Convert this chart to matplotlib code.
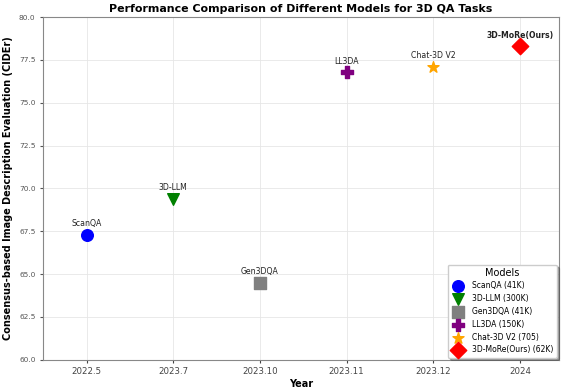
import matplotlib
matplotlib.use("Agg")
import matplotlib.pyplot as plt

years = ["2022.5", "2023.7", "2023.10", "2023.11", "2023.12", "2024"]
models = ["ScanQA", "3D-LLM", "Gen3DQA", "LL3DA", "Chat-3D V2", "3D-MoRe(Ours)"]
legend_labels = ["ScanQA (41K)", "3D-LLM (300K)", "Gen3DQA (41K)", "LL3DA (150K)",
                 "Chat-3D V2 (705)", "3D-MoRe(Ours) (62K)"]
cider = [67.3, 69.4, 64.5, 76.8, 77.1, 78.3]
colors = ["blue", "green", "gray", "purple", "orange", "red"]
markers = ["o", "v", "s", "P", "*", "D"]

fig, ax = plt.subplots(figsize=(5.68, 3.89), dpi=100)
xs = list(range(len(years)))
for i, (x, y) in enumerate(zip(xs, cider)):
    ax.scatter(x, y, s=70, c=colors[i], marker=markers[i], label=legend_labels[i], zorder=3)
    ax.annotate(models[i], (x, y), textcoords="offset points", xytext=(0, 6),
                ha="center", fontsize=5.6, color="#222222",
                fontweight="bold" if i == len(models) - 1 else "normal")

ax.set_xticks(xs)
ax.set_xticklabels(years)
ax.set_xlim(-0.5, 5.45)
ax.set_ylim(60, 80)
ax.set_yticks([60, 62.5, 65, 67.5, 70, 72.5, 75, 77.5, 80])
ax.tick_params(axis="x", labelsize=6.2, colors="#444444", length=2)
ax.tick_params(axis="y", labelsize=5.3, colors="#555555", length=2)
ax.grid(True, color="#e6e6e6", linewidth=0.6)
for s in ax.spines.values():
    s.set_color("#888888")
ax.set_xlabel("Year", fontsize=7, fontweight="bold", labelpad=2)
ax.set_ylabel("Consensus-based Image Description Evaluation (CIDEr)", fontsize=7, fontweight="bold")
ax.set_title("Performance Comparison of Different Models for 3D QA Tasks", fontsize=7.9,
             fontweight="bold", pad=4)
leg = ax.legend(title="Models", loc="lower right", fontsize=5.5, title_fontsize=7,
                markerscale=1.0, shadow=True, labelspacing=0.5,
                borderaxespad=0.3)
fig.subplots_adjust(left=0.076, right=0.984, top=0.956, bottom=0.075)
fig.savefig("out.png")
